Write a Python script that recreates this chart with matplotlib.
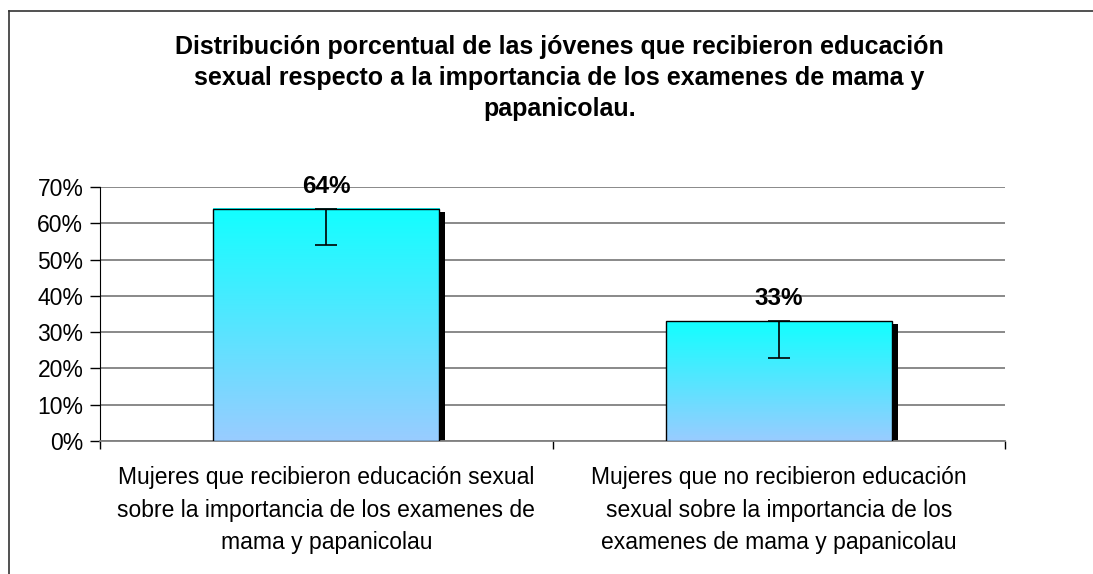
import matplotlib.pyplot as plt
import matplotlib.lines as mlines
import matplotlib.patches as mpatches
from matplotlib.colors import LinearSegmentedColormap
import numpy as np

plt.rcParams['font.family'] = ['Liberation Sans', 'DejaVu Sans']

categorias = ['Mujeres que recibieron educación sexual\nsobre la importancia de los examenes de\nmama y papanicolau',
              'Mujeres que no recibieron educación\nsexual sobre la importancia de los\nexamenes de mama y papanicolau']
valores = [64, 33]
error_inf = [10, 10]
etiquetas = ['64%', '33%']
titulo = ('Distribución porcentual de las jóvenes que recibieron educación\n'
          'sexual respecto a la importancia de los examenes de mama y\n'
          'papanicolau.')

fig = plt.figure(figsize=(10.93, 5.74), dpi=100)
ax = fig.add_axes([0.0915, 0.2317, 0.828, 0.4425])

x = np.arange(len(valores))
ancho = 0.5
ax.set_xlim(-0.5, 1.5)
ax.set_ylim(0, 70)

# degradado de cada barra
grad = np.linspace(0, 1, 256).reshape(-1, 1)
cmap = LinearSegmentedColormap.from_list('g', ['#99CCFF', '#12FFFF'])
for xi, v in zip(x, valores):
    # sombra
    ax.add_patch(mpatches.Rectangle((xi - ancho / 2 + 0.013, 0), ancho, v - 0.8,
                                    facecolor='black', edgecolor='none', zorder=2))
    ax.imshow(grad, extent=(xi - ancho / 2, xi + ancho / 2, 0, v), origin='lower',
              cmap=cmap, aspect='auto', zorder=3)
    ax.add_patch(mpatches.Rectangle((xi - ancho / 2, 0), ancho, v, facecolor='none',
                                    edgecolor='black', linewidth=1, zorder=4))

ax.errorbar(x, valores, yerr=[error_inf, [0, 0]], fmt='none', ecolor='black',
            elinewidth=1.2, capsize=8, capthick=1.2, zorder=5)

for xi, v, t in zip(x, valores, etiquetas):
    ax.text(xi, v + 3, t, ha='center', va='bottom', fontsize=17.5, fontweight='bold', zorder=6)

ax.set_yticks(range(0, 71, 10))
ax.set_yticklabels([f'{v}%' for v in range(0, 71, 10)], fontsize=16.5)
ax.yaxis.grid(True, color='#808080', linewidth=1.3)
ax.set_axisbelow(True)
ax.tick_params(axis='y', length=7, width=1, direction='out', pad=5)

ax.set_xticks([-0.5, 0.5, 1.5])
ax.set_xticklabels([])
ax.tick_params(axis='x', length=6, width=1, direction='out')
for xi, c in zip(x, categorias):
    ax.text(xi, -7, c, ha='center', va='top', fontsize=16.5, linespacing=1.51,
            transform=ax.transData)

ax.spines['top'].set_visible(False)
ax.spines['right'].set_visible(False)
ax.spines['bottom'].set_color('#808080')
ax.spines['bottom'].set_linewidth(1.3)

fig.text(0.512, 0.939, titulo, ha='center', va='top', fontsize=18, fontweight='bold',
         linespacing=1.37)

# marco
fig.add_artist(mlines.Line2D([9 / 1093, 9 / 1093], [0, 1 - 11 / 574], color='#333333', lw=1.2))
fig.add_artist(mlines.Line2D([9 / 1093, 1], [1 - 11 / 574, 1 - 11 / 574], color='#333333', lw=1.2))

fig.savefig('out.png', dpi=100)
